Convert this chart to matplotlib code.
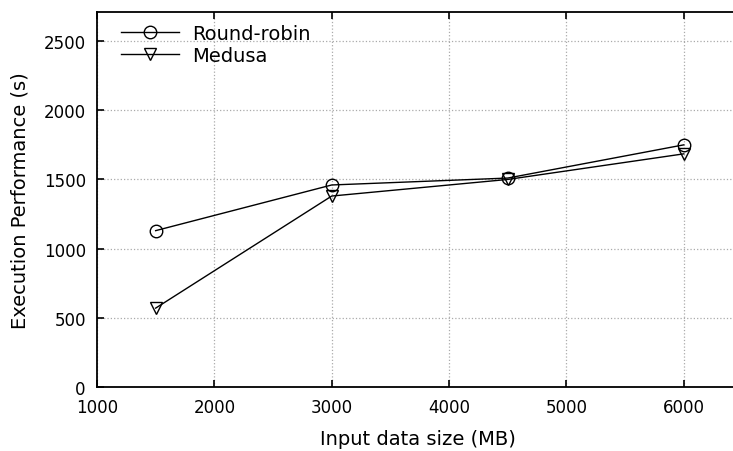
import matplotlib
matplotlib.use('Agg')
import matplotlib.pyplot as plt

sizes = [1500, 3000, 4500, 6000]
round_robin = [1130, 1460, 1510, 1750]
medusa = [570, 1380, 1500, 1685]

fig = plt.figure(figsize=(7.33, 4.52), dpi=100)
# right spine sits just past the canvas edge, as in the reference
ax = fig.add_axes([0.1323, 0.1416, 0.875, 0.8296])

ax.plot(sizes, round_robin, color='black', lw=1, marker='o', ms=9,
        mfc='none', mec='black', mew=1, label='Round-robin')
ax.plot(sizes, medusa, color='black', lw=1, marker='v', ms=9,
        mfc='none', mec='black', mew=1, label='Medusa')

ax.set_xlim(1000, 6465)
ax.set_ylim(0, 2710)
ax.set_xticks([1000, 2000, 3000, 4000, 5000, 6000])
ax.set_yticks([0, 500, 1000, 1500, 2000, 2500])
ax.tick_params(direction='in', top=True, right=False, length=5, width=1.2,
               labelsize=12, pad=8)
ax.grid(True, linestyle=':', color='#aaaaaa', lw=0.9)
for s in ax.spines.values():
    s.set_linewidth(1.3)

ax.set_xlabel('Input data size (MB)', fontsize=14, labelpad=9)
ax.set_ylabel('Execution Performance (s)', fontsize=14, labelpad=10)
ax.legend(loc='upper left', frameon=False, fontsize=14, handlelength=3,
          bbox_to_anchor=(0.022, 0.994), borderaxespad=0.3, borderpad=0.2,
          handletextpad=0.65, labelspacing=0.15)

fig.savefig('out.png', dpi=100)
